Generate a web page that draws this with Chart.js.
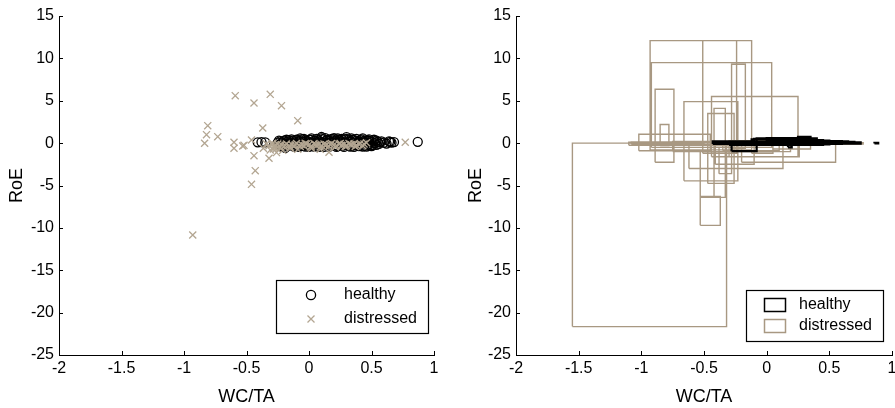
<!DOCTYPE html>
<html>
<head>
<meta charset="utf-8">
<script src="https://cdn.jsdelivr.net/npm/chart.js@4.4.1/dist/chart.umd.min.js"></script>
<style>
  html, body { margin: 0; padding: 0; background: #fff; overflow: hidden; }
  #left { position: absolute; left: 0; top: 0; }
  #right { position: absolute; left: 450px; top: 0; }
</style>
</head>
<body>
<canvas id="left" width="450" height="408"></canvas>
<canvas id="right" width="445" height="408"></canvas>
<script>
// axis ranges and tick steps
const xRange = [-2, 1];
const yRange = [-25, 15];
const xStep = 0.5;
const yStep = 5;
const seriesNames = ['healthy', 'distressed'];

// scatter: [WC/TA, RoE] per firm-year
const healthyPoints = [
  [-0.41, 0.1], [-0.38, 0.12], [-0.35, 0.08], [-0.19, -0.55], [0.87, 0.15], [0.57, 0.1],
  [0.6, 0.05], [0.64, 0.2], [0.68, 0.12], [0.66, 0.05], [0.1, 0.72], [0.3, 0.7], [0.2, 0.6], [0.43, 0.55],
  [-0.25, 0.05], [-0.24, -0.2], [-0.23, 0.2], [-0.22, -0.35], [-0.21, 0.1], [-0.2, 0.3], [-0.19, -0.1],
  [-0.18, 0.15], [-0.17, -0.3], [-0.16, 0.35], [-0.15, 0.0], [-0.14, -0.25], [-0.13, 0.3], [-0.12, 0.1],
  [-0.11, -0.3], [-0.1, 0.4], [-0.09, -0.05], [-0.08, 0.25], [-0.07, -0.35], [-0.06, 0.45], [-0.05, 0.1],
  [-0.04, -0.2], [-0.03, 0.35], [-0.02, -0.1], [-0.01, 0.2], [0.0, -0.3], [0.01, 0.4], [0.02, 0.05],
  [0.03, -0.25], [0.04, 0.3], [0.05, -0.05], [0.06, 0.5], [0.07, -0.3], [0.08, 0.2], [0.09, 0.0],
  [0.1, -0.35], [0.11, 0.45], [0.12, 0.1], [0.13, -0.2], [0.14, 0.35], [0.15, -0.1], [0.16, 0.25],
  [0.17, -0.3], [0.18, 0.5], [0.19, 0.0], [0.2, -0.25], [0.21, 0.3], [0.22, 0.1], [0.23, -0.35],
  [0.24, 0.4], [0.25, -0.05], [0.26, 0.2], [0.27, -0.3], [0.28, 0.45], [0.29, 0.05], [0.3, -0.2],
  [0.31, 0.35], [0.32, -0.1], [0.33, 0.25], [0.34, -0.3], [0.35, 0.4], [0.36, 0.0], [0.37, -0.25],
  [0.38, 0.3], [0.39, 0.1], [0.4, -0.35], [0.41, 0.35], [0.42, -0.05], [0.43, 0.2], [0.44, -0.3],
  [0.45, 0.3], [0.46, 0.05], [0.47, -0.2], [0.48, 0.25], [0.49, -0.1], [0.5, 0.15], [0.51, -0.25],
  [0.52, 0.2], [0.53, 0.0], [0.54, -0.2], [0.55, 0.15], [0.56, -0.1],
  [-0.15, 0.2], [-0.05, -0.3], [0.05, 0.25], [0.15, 0.4], [0.25, 0.3], [0.35, -0.2], [0.45, 0.1],
  [0.0, 0.1], [0.1, 0.15], [0.2, 0.2], [0.3, 0.1], [0.4, 0.2],
  [-0.24, 0.3], [-0.22, 0.05], [-0.2, -0.2], [-0.18, 0.4], [-0.16, -0.05], [-0.14, 0.45], [-0.12, -0.4],
  [-0.1, 0.15], [-0.08, -0.45], [-0.06, 0.2], [-0.04, 0.5], [-0.02, 0.3], [0.0, -0.45], [0.02, 0.55],
  [0.04, -0.4], [0.06, 0.1], [0.08, -0.45], [0.1, 0.55], [0.12, -0.45], [0.14, 0.05], [0.16, -0.45],
  [0.18, 0.2], [0.2, 0.45], [0.22, -0.45], [0.24, 0.15], [0.26, 0.5], [0.28, -0.45], [0.3, 0.5],
  [0.32, 0.15], [0.34, 0.55], [0.36, -0.45], [0.38, 0.5], [0.4, 0.05], [0.42, 0.45], [0.44, 0.1],
  [0.46, -0.4], [0.48, 0.45], [0.5, -0.35], [0.52, 0.4], [0.54, 0.3], [0.58, 0.2], [0.62, -0.05],
  [0.65, 0.15], [-0.21, -0.45], [-0.13, -0.1], [-0.03, -0.4], [0.07, 0.35], [0.17, 0.1], [0.27, 0.05],
  [0.37, 0.2], [0.47, 0.35], [0.13, 0.6], [0.23, 0.55], [-0.07, 0.55], [0.33, -0.4], [0.43, -0.4]
];

const distressedPoints = [
  [-0.93, -10.84], [-0.59, 5.6], [-0.44, 4.74], [-0.31, 5.76], [-0.22, 4.42], [-0.09, 2.65],
  [-0.37, 1.79], [-0.81, 2.06], [-0.82, 1.0], [-0.835, -0.02], [-0.73, 0.76], [-0.6, 0.1],
  [-0.6, -0.6], [-0.53, -0.34], [-0.52, -0.26], [-0.46, 0.37], [-0.44, -1.48], [-0.43, -3.25],
  [-0.46, -4.86], [-0.365, -0.61], [-0.32, -1.79], [-0.26, -1.12], [-0.285, -0.69], [0.77, 0.1],
  [0.16, -1.08], [0.09, -0.73], [-0.09, -0.73], [-0.15, -0.61], [0.02, -0.61], [0.46, 0.05],
  [-0.32, -0.3], [-0.3, -0.15], [-0.28, -0.5], [-0.27, -0.2], [-0.26, -0.6], [-0.25, -0.1],
  [-0.24, -0.35], [-0.22, -0.2], [-0.2, -0.4], [-0.18, -0.1], [-0.16, -0.3], [-0.14, -0.15],
  [-0.12, -0.35], [-0.1, -0.05], [-0.08, -0.25], [-0.06, -0.15], [-0.04, -0.3], [-0.02, -0.1],
  [0.0, -0.2], [0.02, -0.35], [0.04, -0.05], [0.06, -0.25], [0.08, -0.15], [0.1, -0.3],
  [0.12, -0.1], [0.14, -0.2], [0.16, -0.35], [0.18, -0.05], [0.2, -0.2], [0.22, -0.3],
  [0.24, -0.1], [0.26, -0.25], [0.28, -0.15], [0.3, -0.3], [0.32, -0.05], [0.34, -0.2],
  [0.36, -0.1], [0.38, -0.25], [0.4, -0.15], [0.44, -0.1],
  [-0.29, -0.05], [-0.23, -0.5], [-0.19, -0.25], [-0.15, -0.45], [-0.11, -0.2], [-0.07, -0.4],
  [-0.03, -0.05], [0.01, -0.45], [0.05, -0.15], [0.09, -0.45], [0.13, -0.3], [0.17, -0.15],
  [0.21, -0.45], [0.25, -0.05], [0.29, -0.4], [0.33, -0.15], [0.37, -0.4], [0.41, -0.05],
  [0.43, -0.3], [-0.31, -0.8], [-0.21, -0.85], [-0.34, -0.1]
];

// boxes: [xMin, xMax, yMin, yMax] per firm
const healthyBoxes = [
  [-0.43, -0.1, -0.1, 0.2], [-0.42, 0.2, -0.05, 0.15], [-0.1, 0.25, -0.15, 0.5],
  [-0.12, 0.3, 0.0, 0.45], [0.0, 0.45, -0.2, 0.35], [0.25, 0.35, 0.0, 0.75],
  [0.3, 0.6, -0.1, 0.25], [0.35, 0.65, -0.05, 0.2], [0.45, 0.75, -0.05, 0.1],
  [0.55, 0.72, 0.0, 0.08], [-0.28, -0.08, -0.95, 0.0], [0.17, 0.2, -0.5, 0.0],
  [-0.3, 0.1, -0.2, 0.1], [0.1, 0.5, -0.15, 0.3], [0.86, 0.89, -0.03, 0.03],
  [-0.08, 0.4, 0.1, 0.55], [0.0, 0.28, 0.2, 0.6], [0.4, 0.7, 0.0, 0.15]
];

const distressedBoxes = [
  [-1.55, -0.32, -21.65, 0.0], [-0.93, -0.12, -0.8, 12.1], [-0.51, -0.24, -1.2, 12.1],
  [-0.92, 0.04, -0.5, 9.5], [-0.28, -0.17, -0.6, 9.3], [-0.44, 0.25, -1.6, 5.5],
  [-0.66, -0.23, -4.45, 4.9], [-0.89, -0.74, -2.25, 6.35], [-0.85, -0.78, -0.3, 2.2],
  [-0.47, -0.26, -4.75, 3.5], [-0.42, -0.33, -6.4, 4.1], [-1.02, -0.45, -0.9, 1.05],
  [-0.53, -0.37, -9.7, -6.3], [-0.53, -0.32, -6.4, -1.0], [-0.2, 0.55, -2.25, 0.2],
  [-0.3, 0.26, -1.6, 0.3], [-0.62, 0.13, -3.0, -0.2], [-0.41, -0.1, -2.5, -0.3],
  [-0.75, 0.19, -1.0, 0.2], [-1.1, -0.3, -0.25, 0.1], [-1.08, -0.5, -0.1, 0.15],
  [-0.38, -0.28, -3.6, -0.5], [-0.12, 0.05, -1.2, -0.2], [0.05, 0.35, -0.7, 0.1],
  [-0.35, 0.1, -0.9, 0.0], [0.4, 0.77, -0.1, 0.05]
];

const FONT = "'Liberation Sans', Arial, sans-serif";
const BLACK = '#000';
const TAN_MARK = '#b3a692';
const TAN_LINE = '#a89882';

Chart.defaults.font.family = FONT;
Chart.defaults.color = BLACK;
Chart.defaults.animation = false;

function toXY(points) {
  return points.map(([x, y]) => ({x, y}));
}

// closed outlines with a null point between boxes so the line breaks
function outlines(boxes) {
  const pts = [];
  boxes.forEach(([x0, x1, y0, y1]) => {
    pts.push({x: x0, y: y0}, {x: x1, y: y0}, {x: x1, y: y1}, {x: x0, y: y1}, {x: x0, y: y0}, {x: x0, y: null});
  });
  return pts;
}

// plain numbers: -2, -1.5, 0, 0.5, 1
const plainTick = v => String(Math.round(v * 10) / 10);

function scaleOptions(yAxisWidth, yTitlePad) {
  return {
    x: {
      type: 'linear', min: xRange[0], max: xRange[1],
      grid: {display: false, drawTicks: false},
      border: {display: true, color: BLACK, width: 1},
      ticks: {stepSize: xStep, autoSkip: false, padding: 4, font: {size: 16}, color: BLACK, callback: plainTick},
      title: {display: true, text: 'WC/TA', font: {size: 18}, padding: {top: 0, bottom: 0}, color: BLACK},
      afterFit(s) { s.height = 53; s.paddingLeft = 0; s.paddingRight = 0; }
    },
    y: {
      type: 'linear', min: yRange[0], max: yRange[1],
      grid: {display: false, drawTicks: false},
      border: {display: true, color: BLACK, width: 1},
      ticks: {stepSize: yStep, autoSkip: false, padding: 5, font: {size: 16}, color: BLACK, callback: plainTick},
      title: {display: true, text: 'RoE', font: {size: 18}, padding: {top: yTitlePad, bottom: 0}, color: BLACK},
      afterFit(s) { s.width = yAxisWidth; s.paddingTop = 0; s.paddingBottom = 0; }
    }
  };
}

// short tick marks pointing into the plot area
const inwardTicks = {
  id: 'inwardTicks',
  afterDraw(chart) {
    const {ctx, chartArea: a, scales: {x, y}} = chart;
    ctx.save();
    ctx.strokeStyle = BLACK;
    ctx.lineWidth = 1;
    ctx.beginPath();
    x.ticks.forEach(t => {
      const px = Math.round(x.getPixelForValue(t.value)) + 0.5;
      ctx.moveTo(px, a.bottom);
      ctx.lineTo(px, a.bottom - 4);
    });
    y.ticks.forEach(t => {
      const py = Math.round(y.getPixelForValue(t.value)) + 0.5;
      ctx.moveTo(a.left, py);
      ctx.lineTo(a.left + 4, py);
    });
    ctx.stroke();
    ctx.restore();
  }
};

function legendFrame(ctx, x, y, w, h) {
  ctx.fillStyle = '#fff';
  ctx.fillRect(x, y, w, h);
  ctx.strokeStyle = BLACK;
  ctx.lineWidth = 1.2;
  ctx.strokeRect(x, y, w, h);
}

function legendText(ctx, text, x, y) {
  ctx.fillStyle = BLACK;
  ctx.font = '16px ' + FONT;
  ctx.textAlign = 'left';
  ctx.textBaseline = 'middle';
  ctx.fillText(text, x, y);
}

const markerLegend = {
  id: 'markerLegend',
  afterDraw(chart) {
    const ctx = chart.ctx;
    ctx.save();
    legendFrame(ctx, 276.5, 280.5, 152, 53);
    ctx.strokeStyle = BLACK;
    ctx.lineWidth = 1.3;
    ctx.beginPath();
    ctx.arc(311, 295, 4.6, 0, Math.PI * 2);
    ctx.stroke();
    ctx.strokeStyle = TAN_MARK;
    ctx.beginPath();
    ctx.moveTo(307.5, 315.5); ctx.lineTo(314.5, 322.5);
    ctx.moveTo(314.5, 315.5); ctx.lineTo(307.5, 322.5);
    ctx.stroke();
    legendText(ctx, seriesNames[0], 344, 295);
    legendText(ctx, seriesNames[1], 344, 319);
    ctx.restore();
  }
};

const boxLegend = {
  id: 'boxLegend',
  afterDraw(chart) {
    const ctx = chart.ctx;
    ctx.save();
    legendFrame(ctx, 296.5, 290.5, 137, 51);
    ctx.lineWidth = 1.5;
    ctx.strokeStyle = BLACK;
    ctx.strokeRect(314.5, 298.5, 21, 13);
    ctx.strokeStyle = TAN_LINE;
    ctx.strokeRect(314.5, 319.5, 21, 13);
    legendText(ctx, seriesNames[0], 349, 305);
    legendText(ctx, seriesNames[1], 349, 326);
    ctx.restore();
  }
};

const common = {
  responsive: false,
  animation: false,
  events: [],
  plugins: {legend: {display: false}, tooltip: {enabled: false}}
};

// scatter of the individual observations
new Chart(document.getElementById('left'), {
  type: 'scatter',
  data: {
    datasets: [
      {
        label: seriesNames[0], data: toXY(healthyPoints), order: 2,
        pointStyle: 'circle', pointRadius: 4.5, borderWidth: 1.3,
        borderColor: BLACK, backgroundColor: 'rgba(0,0,0,0)'
      },
      {
        label: seriesNames[1], data: toXY(distressedPoints), order: 1,
        pointStyle: 'crossRot', pointRadius: 5, borderWidth: 1.3,
        borderColor: TAN_MARK, backgroundColor: TAN_MARK
      }
    ]
  },
  options: Object.assign({}, common, {
    layout: {padding: {left: 0, top: 16, right: 16, bottom: 0}},
    scales: scaleOptions(59, 6)
  }),
  plugins: [inwardTicks, markerLegend]
});

// per-firm ranges drawn as box outlines
new Chart(document.getElementById('right'), {
  type: 'scatter',
  data: {
    datasets: [
      {
        label: seriesNames[0], data: outlines(healthyBoxes), order: 1,
        showLine: true, spanGaps: false, pointRadius: 0,
        borderColor: BLACK, borderWidth: 2.2
      },
      {
        label: seriesNames[1], data: outlines(distressedBoxes), order: 2,
        showLine: true, spanGaps: false, pointRadius: 0,
        borderColor: TAN_LINE, borderWidth: 1.4
      }
    ]
  },
  options: Object.assign({}, common, {
    layout: {padding: {left: 0, top: 16, right: 3, bottom: 0}},
    scales: scaleOptions(66, 15)
  }),
  plugins: [inwardTicks, boxLegend]
});
</script>
</body>
</html>
